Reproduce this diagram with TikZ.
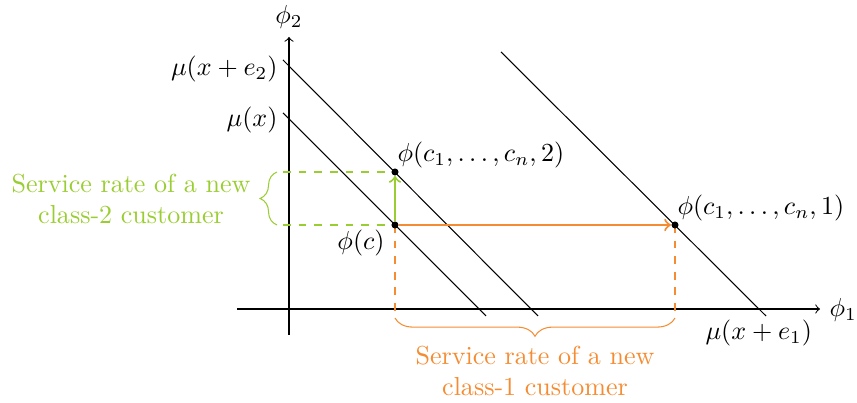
\documentclass[tikz,border=0pt]{standalone}
\usetikzlibrary{decorations.pathreplacing}
\definecolor{cgreen}{RGB}{154,205,50}
\definecolor{corange}{RGB}{245,140,50}
\begin{document}
\begin{tikzpicture}[x=0.384pt,y=-0.384pt,
  lbl/.style={inner sep=0pt},
  dot/.style={circle,fill=black,inner sep=0pt,minimum size=2.7pt},
  gdash/.style={cgreen,dashed,semithick},
  odash/.style={corange,dashed,semithick},
  bracestyle/.style={decorate,decoration={brace,amplitude=#1}}]
\useasboundingbox (0,0) rectangle (857,403);
% axes
\coordinate (xs) at (237,309);
\coordinate (xe) at (820,309);
\coordinate (ys) at (289,335);
\coordinate (ye) at (289,37);
\draw[->] (xs) -- (xe);
\draw[->] (ys) -- (ye);
\node[lbl,anchor=west] (phi1) at (829,310) {$\phi_1$};
\node[lbl] (phi2) at (289,17) {$\phi_2$};
% points
\coordinate (pc) at (395,225);
\coordinate (p2) at (395,172);
\coordinate (p1) at (675,225);
% level lines
\coordinate (a1) at (283,60);  \coordinate (a2) at (538,316);
\coordinate (b1) at (283,113); \coordinate (b2) at (486,316);
\coordinate (c1) at (501,52);  \coordinate (c2) at (766,316);
\draw (a1) -- (a2);
\draw (b1) -- (b2);
\draw (c1) -- (c2);
\node[lbl,anchor=east] (lmux2) at (278,69) {$\mu(x+e_2)$};
\node[lbl,anchor=east] (lmux) at (278,120) {$\mu(x)$};
\node[lbl,anchor=west] (lmux1) at (705,333) {$\mu(x+e_1)$};
% green part
\coordinate (g1) at (283,172);
\coordinate (g2) at (283,225);
\draw[gdash] (g1) -- (p2);
\draw[gdash] (g2) -- (pc);
\coordinate (gb1) at (277,225);
\coordinate (gb2) at (277,172);
\draw[cgreen,bracestyle=6.5pt] (gb1) -- (gb2);
\node[lbl,cgreen,align=center] (gtext) at (131,199) {Service rate of a new\\class-2 customer};
% orange part
\coordinate (o1) at (395,318);
\coordinate (o2) at (675,318);
\draw[odash] (pc) -- (o1);
\draw[odash] (p1) -- (o2);
\draw[corange,bracestyle=7pt] (o2) -- (o1);
\node[lbl,corange,align=center] (otext) at (535,371) {Service rate of a new\\class-1 customer};
% dots and labels
\node[dot] (dc) at (pc) {};
\node[dot] (d2) at (p2) {};
\node[dot] (d1) at (p1) {};
\draw[cgreen,thick,->] (dc) -- (d2);
\draw[corange,thick,->] (dc) -- (d1);
\node[lbl] (lphic) at (361,243) {$\phi(c)$};
\node[lbl,anchor=west] (lphi2) at (397,155) {$\phi(c_1,\ldots,c_n,2)$};
\node[lbl,anchor=west] (lphi1) at (677,208) {$\phi(c_1,\ldots,c_n,1)$};
\end{tikzpicture}
\end{document}
